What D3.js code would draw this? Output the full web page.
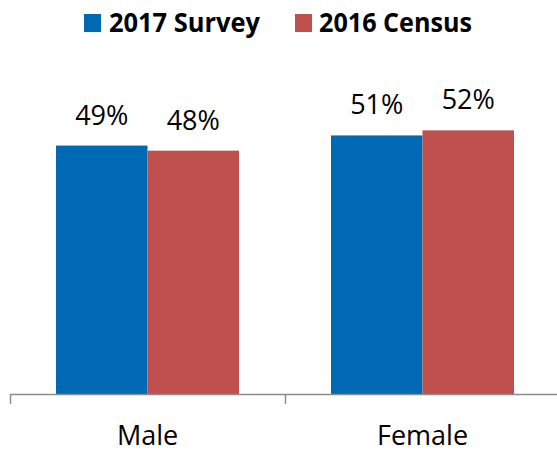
<!DOCTYPE html>
<html>
<head>
<meta charset="utf-8">
<script src="https://cdn.jsdelivr.net/npm/d3@7"></script>
<style>
  html, body { margin: 0; padding: 0; background: #ffffff; }
  svg { display: block; }
</style>
</head>
<body>
<svg id="chart" width="557" height="453"></svg>
<script>
// Share of respondents by gender, survey vs. census (percent)
const categories = ["Male", "Female"];
const seriesNames = ["2017 Survey", "2016 Census"];
const survey2017 = [49, 51];
const census2016 = [48, 52];
const seriesColors = ["#0069B4", "#C0504D"];

const rows = categories.map((c, i) => ({
  category: c,
  values: [survey2017[i], census2016[i]]
}));

const svg = d3.select("#chart");
const baseY = 394;

// Category bands: ticks sit on band edges
const x0 = d3.scaleBand().domain(categories).range([10, 560]).paddingInner(0).paddingOuter(0);
// Series within each category
const x1 = d3.scaleBand().domain(seriesNames).range([46, 229]).padding(0);
const y = d3.scaleLinear().domain([0, 60]).range([baseY, baseY - 304.2]);

const labelFont = "'Open Sans', 'Liberation Sans', sans-serif";

// Bars
const groups = svg.append("g").selectAll("g")
  .data(rows).join("g")
  .attr("transform", d => `translate(${x0(d.category)},0)`);

groups.selectAll("rect")
  .data(d => d.values.map((v, i) => ({ series: seriesNames[i], value: v, idx: i })))
  .join("rect")
  .attr("x", d => x1(d.series))
  .attr("y", d => y(d.value))
  .attr("width", x1.bandwidth())
  .attr("height", d => baseY - y(d.value))
  .attr("fill", d => seriesColors[d.idx]);

// Value labels
groups.selectAll("text.value")
  .data(d => d.values.map((v, i) => ({ series: seriesNames[i], value: v })))
  .join("text")
  .attr("class", "value")
  .attr("x", d => x1(d.series) + x1.bandwidth() / 2)
  .attr("y", d => y(d.value) - 21)
  .attr("text-anchor", "middle")
  .attr("font-family", labelFont)
  .attr("font-size", 27)
  .attr("fill", "#000")
  .text(d => d.value + "%");

// Category axis along the baseline
const axis = d3.axisBottom(x0).tickSize(0).tickFormat(d => d);
const axisG = svg.append("g")
  .attr("transform", `translate(0,${baseY})`)
  .call(axis);
axisG.select(".domain").remove();
axisG.selectAll("text")
  .attr("font-family", labelFont)
  .attr("font-size", 27)
  .attr("fill", "#000")
  .attr("dy", null)
  .attr("y", 51);

svg.append("line")
  .attr("x1", x0.range()[0]).attr("x2", 557)
  .attr("y1", baseY + 0.5).attr("y2", baseY + 0.5)
  .attr("stroke", "#8c8c8c").attr("stroke-width", 1.5);

const edges = categories.map(c => x0(c)).concat([x0.range()[1]]);
svg.append("g").selectAll("line")
  .data(edges).join("line")
  .attr("x1", d => d + 0.5).attr("x2", d => d + 0.5)
  .attr("y1", baseY).attr("y2", baseY + 10)
  .attr("stroke", "#8c8c8c").attr("stroke-width", 1.5);

// Legend
const legendItems = [
  { name: seriesNames[0], color: seriesColors[0], sx: 84, tx: 109, w: 151 },
  { name: seriesNames[1], color: seriesColors[1], sx: 295, tx: 319, w: 153 }
];
const legend = svg.append("g");
legend.selectAll("rect")
  .data(legendItems).join("rect")
  .attr("x", d => d.sx).attr("y", 14)
  .attr("width", 17).attr("height", 18)
  .attr("fill", d => d.color);
legend.selectAll("text")
  .data(legendItems).join("text")
  .attr("x", d => d.tx).attr("y", 32)
  .attr("font-family", labelFont)
  .attr("font-weight", "bold")
  .attr("font-size", 27)
  .attr("fill", "#000")
  .attr("textLength", d => d.w)
  .attr("lengthAdjust", "spacingAndGlyphs")
  .text(d => d.name);
</script>
</body>
</html>
